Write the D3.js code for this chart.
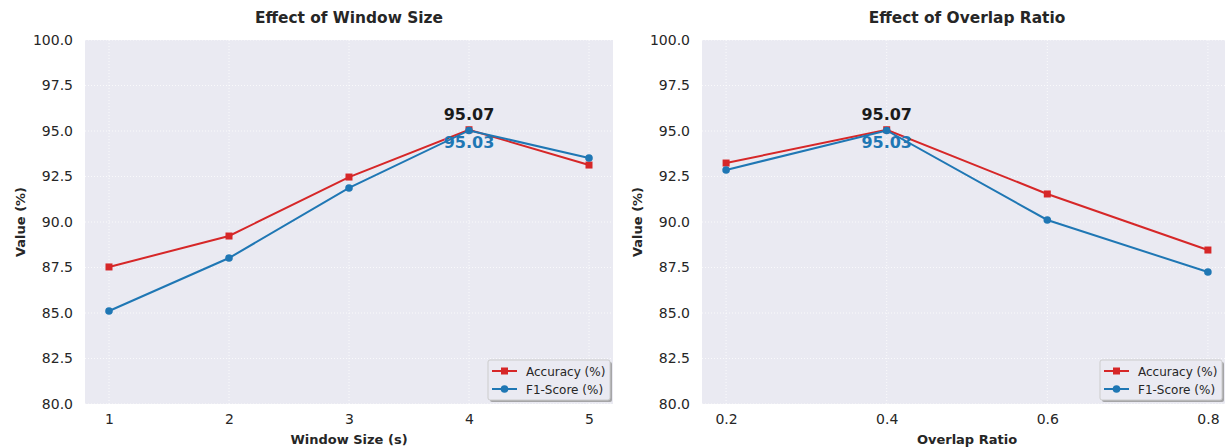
<!DOCTYPE html>
<html>
<head>
<meta charset="utf-8">
<script src="https://cdn.jsdelivr.net/npm/d3@7"></script>
<style>
  body { margin: 0; background: #fff; }
  svg { display: block; font-family: "DejaVu Sans", sans-serif; }
</style>
</head>
<body>
<svg id="chart" width="1225" height="448"></svg>
<script>
// Window size sweep
const windowSizes = [1, 2, 3, 4, 5];
const windowAccuracy = [87.53, 89.23, 92.47, 95.07, 93.13];
const windowF1 = [85.11, 88.02, 91.87, 95.03, 93.52];

// Overlap ratio sweep
const overlapRatios = [0.2, 0.4, 0.6, 0.8];
const overlapAccuracy = [93.24, 95.07, 91.54, 88.46];
const overlapF1 = [92.86, 95.03, 90.11, 87.25];

const yTicks = [80, 82.5, 85, 87.5, 90, 92.5, 95, 97.5, 100];
const seriesNames = ["Accuracy (%)", "F1-Score (%)"];
const RED = "#d62728", BLUE = "#1f77b4";
const SVG_W = 1225;

const svg = d3.select("#chart");

function panel(opts) {
  const { left, width, top, height, xs, acc, f1, xDomain, xTicks, xFmt, title, xLabel } = opts;
  const g = svg.append("g");
  const x = d3.scaleLinear().domain(xDomain).range([left, left + width]);
  const y = d3.scaleLinear().domain([80, 100]).range([top + height, top]);

  g.append("rect").attr("x", left).attr("y", top).attr("width", width).attr("height", height)
    .attr("fill", "#eaeaf2");

  // dotted white grid
  g.selectAll(".hg").data(yTicks).join("line")
    .attr("x1", left).attr("x2", left + width)
    .attr("y1", d => y(d)).attr("y2", d => y(d))
    .attr("stroke", "#fff").attr("stroke-width", 1).attr("stroke-dasharray", "1,2").attr("opacity", 0.8);
  g.selectAll(".vg").data(xTicks).join("line")
    .attr("y1", top).attr("y2", top + height)
    .attr("x1", d => x(d)).attr("x2", d => x(d))
    .attr("stroke", "#fff").attr("stroke-width", 1).attr("stroke-dasharray", "1,2").attr("opacity", 0.8);

  // axes
  const yAxis = d3.axisLeft(y).tickValues(yTicks).tickFormat(d3.format(".1f")).tickSize(0).tickPadding(12);
  const ya = g.append("g").attr("transform", `translate(${left},0)`).call(yAxis);
  ya.select(".domain").remove();
  ya.selectAll("text").attr("font-size", 14).attr("fill", "#262626").attr("font-family", "DejaVu Sans");

  const xAxis = d3.axisBottom(x).tickValues(xTicks).tickFormat(xFmt).tickSize(0).tickPadding(10);
  const xa = g.append("g").attr("transform", `translate(0,${top + height})`).call(xAxis);
  xa.select(".domain").remove();
  xa.selectAll("text").attr("font-size", 14).attr("fill", "#262626").attr("font-family", "DejaVu Sans");

  // titles and labels
  g.append("text").attr("x", left + width / 2).attr("y", 23).attr("text-anchor", "middle")
    .attr("font-size", 15.4).attr("font-weight", "bold").attr("fill", "#262626").text(title);
  g.append("text").attr("x", left + width / 2).attr("y", 444).attr("text-anchor", "middle")
    .attr("font-size", 13).attr("font-weight", "bold").attr("fill", "#262626").text(xLabel);
  g.append("text").attr("transform", `translate(${left - 60},${top + height / 2}) rotate(-90)`)
    .attr("text-anchor", "middle").attr("font-size", 13).attr("font-weight", "bold")
    .attr("fill", "#262626").text("Value (%)");

  const line = d3.line().x(d => x(d[0])).y(d => y(d[1]));
  const accPts = xs.map((v, i) => [v, acc[i]]);
  const f1Pts = xs.map((v, i) => [v, f1[i]]);

  g.append("path").datum(accPts).attr("d", line).attr("fill", "none").attr("stroke", RED).attr("stroke-width", 2);
  g.selectAll(".am").data(accPts).join("rect")
    .attr("x", d => x(d[0]) - 3.5).attr("y", d => y(d[1]) - 3.5).attr("width", 7).attr("height", 7).attr("fill", RED);
  g.append("path").datum(f1Pts).attr("d", line).attr("fill", "none").attr("stroke", BLUE).attr("stroke-width", 2);
  g.selectAll(".fm").data(f1Pts).join("circle")
    .attr("cx", d => x(d[0])).attr("cy", d => y(d[1])).attr("r", 3.8).attr("fill", BLUE);

  // label the best point
  const bi = acc.indexOf(d3.max(acc));
  g.append("text").attr("x", x(xs[bi])).attr("y", y(acc[bi]) - 10).attr("text-anchor", "middle")
    .attr("font-size", 16).attr("font-weight", "bold").attr("fill", "#1a1a1a").text(acc[bi].toFixed(2));
  g.append("text").attr("x", x(xs[bi])).attr("y", y(f1[bi]) + 18).attr("text-anchor", "middle")
    .attr("font-size", 16).attr("font-weight", "bold").attr("fill", BLUE).text(f1[bi].toFixed(2));

  // legend, anchored to the visible lower-right corner of the panel
  const lw = 122, lh = 40;
  const rightEdge = Math.min(left + width, SVG_W);
  const lx = rightEdge - lw - 3, ly = top + height - lh - 4;
  const lg = g.append("g");
  lg.append("rect").attr("x", lx + 2).attr("y", ly + 2).attr("width", lw).attr("height", lh).attr("rx", 2)
    .attr("fill", "#888").attr("opacity", 0.7);
  lg.append("rect").attr("x", lx).attr("y", ly).attr("width", lw).attr("height", lh).attr("rx", 2)
    .attr("fill", "#eaeaf2").attr("stroke", "#ccc").attr("stroke-width", 1);
  [RED, BLUE].forEach((c, i) => {
    const yy = ly + 11 + i * 18;
    lg.append("line").attr("x1", lx + 4).attr("x2", lx + 29).attr("y1", yy).attr("y2", yy)
      .attr("stroke", c).attr("stroke-width", 2);
    if (i === 0) lg.append("rect").attr("x", lx + 13).attr("y", yy - 3.5).attr("width", 7).attr("height", 7).attr("fill", c);
    else lg.append("circle").attr("cx", lx + 16.5).attr("cy", yy).attr("r", 3.8).attr("fill", c);
    lg.append("text").attr("x", lx + 38).attr("y", yy + 4.5).attr("font-size", 12).attr("fill", "#262626")
      .text(seriesNames[i]);
  });
}

panel({
  left: 85, width: 528, top: 40, height: 364,
  xs: windowSizes, acc: windowAccuracy, f1: windowF1,
  xDomain: [0.8, 5.2], xTicks: windowSizes, xFmt: d3.format("d"),
  title: "Effect of Window Size", xLabel: "Window Size (s)"
});

panel({
  left: 702, width: 530, top: 40, height: 364,
  xs: overlapRatios, acc: overlapAccuracy, f1: overlapF1,
  xDomain: [0.17, 0.83], xTicks: overlapRatios, xFmt: d3.format(".1f"),
  title: "Effect of Overlap Ratio", xLabel: "Overlap Ratio"
});
</script>
</body>
</html>
